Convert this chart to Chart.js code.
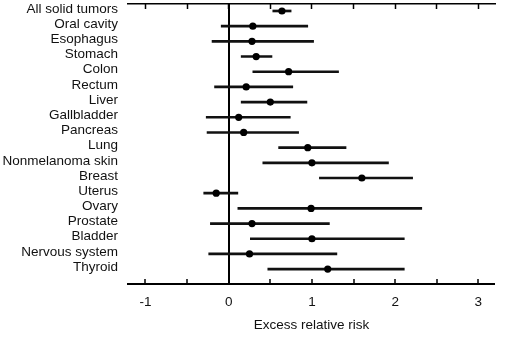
<!DOCTYPE html>
<html>
<head>
<meta charset="utf-8">
<script src="https://cdn.jsdelivr.net/npm/chart.js@4/dist/chart.umd.min.js"></script>
<style>
  html, body { margin: 0; padding: 0; background: #fff; }
  #wrap { width: 524px; height: 360px; position: relative; }
</style>
</head>
<body>
<div id="wrap"><canvas id="c" width="524" height="360"></canvas></div>
<script>
const categories = ["All solid tumors","Oral cavity","Esophagus","Stomach","Colon","Rectum","Liver","Gallbladder","Pancreas","Lung","Nonmelanoma skin","Breast","Uterus","Ovary","Prostate","Bladder","Nervous system","Thyroid"];
const estimates = [0.64,0.29,0.28,0.33,0.72,0.21,0.50,0.12,0.18,0.95,1.00,1.60,-0.15,0.99,0.28,1.00,0.25,1.19];
const lower     = [0.53,-0.09,-0.20,0.15,0.29,-0.17,0.15,-0.27,-0.26,0.60,0.41,1.09,-0.30,0.11,-0.22,0.26,-0.24,0.47];
const upper     = [0.75,0.95,1.02,0.52,1.32,0.77,0.94,0.74,0.84,1.41,1.92,2.21,0.11,2.32,1.21,2.11,1.30,2.11];
const xTicks = [-1,-0.5,0,0.5,1,1.5,2,2.5,3];
const xTitle = "Excess relative risk";

Chart.defaults.font.family = "'Liberation Sans', Arial, sans-serif";
Chart.defaults.font.size = 13.5;
Chart.defaults.color = "#111";

const setXTicks = s => { s.ticks = xTicks.map(v => ({ value: v })); };
const noPad = s => { s.paddingTop = 0; s.paddingBottom = 0; s.paddingLeft = 0; s.paddingRight = 0; };

new Chart(document.getElementById('c'), {
  data: {
    datasets: [
      {
        type: 'bar',
        indexAxis: 'y',
        xAxisID: 'x',
        yAxisID: 'y',
        data: categories.map((c, i) => ({ y: i, x: [lower[i], upper[i]] })),
        backgroundColor: '#111',
        borderWidth: 0,
        barThickness: 2,
        order: 2
      },
      {
        type: 'scatter',
        xAxisID: 'x',
        yAxisID: 'y',
        data: categories.map((c, i) => ({ x: estimates[i], y: i })),
        pointRadius: 3.6,
        pointBackgroundColor: '#000',
        pointBorderWidth: 0,
        order: 1
      }
    ]
  },
  options: {
    responsive: false,
    animation: false,
    events: [],
    layout: { padding: { left: 0, right: 29, top: 0, bottom: 27 } },
    plugins: { legend: { display: false }, tooltip: { enabled: false } },
    scales: {
      x: {
        type: 'linear',
        position: 'bottom',
        offset: false,
        min: -1.21,
        max: 3.2,
        afterBuildTicks: setXTicks,
        afterFit: s => { s.height = 49; noPad(s); },
        border: { display: true, color: '#000', width: 2 },
        grid: {
          drawOnChartArea: true,
          color: ctx => (ctx.tick && ctx.tick.value === 0) ? '#000' : 'rgba(0,0,0,0)',
          lineWidth: ctx => (ctx.tick && ctx.tick.value === 0) ? 2 : 0,
          drawTicks: true,
          tickLength: -5,
          tickColor: '#000',
          tickWidth: 1.5
        },
        ticks: {
          padding: 15,
          maxRotation: 0,
          autoSkip: false,
          callback: v => Number.isInteger(v) ? String(v) : ''
        },
        title: { display: true, text: xTitle, padding: { top: 0, bottom: 0 } }
      },
      x2: {
        type: 'linear',
        position: 'top',
        offset: false,
        min: -1.21,
        max: 3.2,
        afterBuildTicks: setXTicks,
        afterFit: s => { s.height = 3; noPad(s); },
        border: { display: true, color: '#000', width: 1.5 },
        grid: {
          drawOnChartArea: false,
          drawTicks: true,
          tickLength: -5,
          tickColor: '#000',
          tickWidth: 1.5
        },
        ticks: { display: false }
      },
      y: {
        type: 'linear',
        position: 'left',
        reverse: true,
        offset: false,
        min: -0.46,
        max: 17.98,
        afterBuildTicks: s => { s.ticks = categories.map((c, i) => ({ value: i })); },
        afterFit: s => { s.width = 128; noPad(s); },
        border: { display: false },
        grid: { display: false, drawTicks: false, offset: false },
        ticks: {
          autoSkip: false,
          padding: 10,
          labelOffset: -2,
          callback: v => categories[v]
        }
      }
    }
  }
});
</script>
</body>
</html>
